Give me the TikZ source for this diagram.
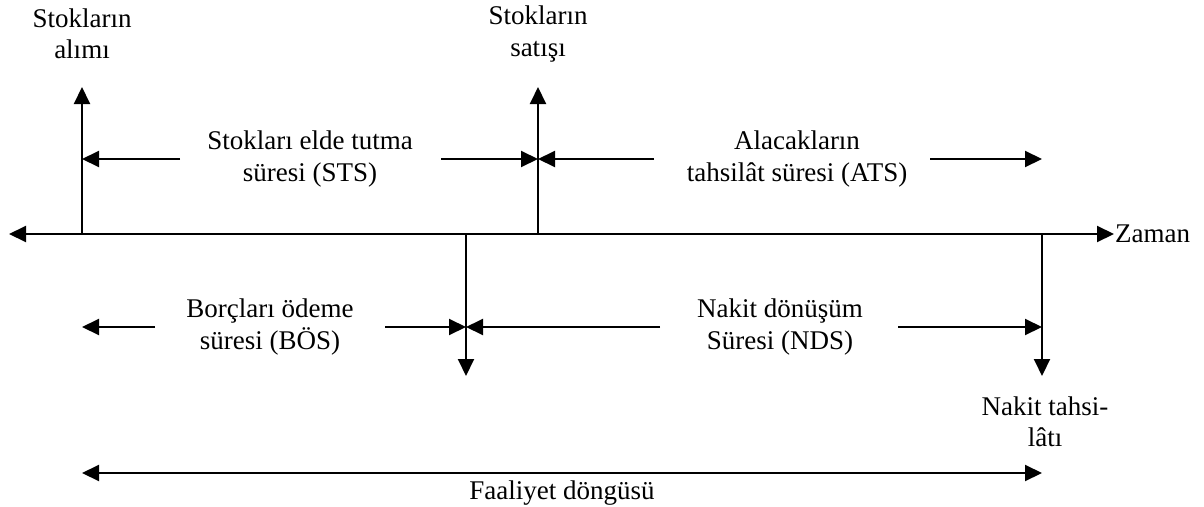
\documentclass[tikz,border=0pt]{standalone}
\usepackage{fontspec}
\setmainfont{Liberation Serif}
\usetikzlibrary{arrows.meta}
\begin{document}
\begin{tikzpicture}[x=1pt,y=-1pt,
  conn/.style={line width=2pt,-{Triangle[length=17pt,width=16pt]}},
  both/.style={line width=2pt,{Triangle[length=17pt,width=16pt]}-{Triangle[length=17pt,width=16pt]}},
  lbl/.style={align=center,inner sep=0pt,font=\fontsize{27}{31.5}\selectfont}]
\useasboundingbox (0,0) rectangle (1204,506);
% axis points
\coordinate (axL) at (9,234);
\coordinate (axR) at (1114,234);
\coordinate (pA) at (82,234);
\coordinate (pS) at (538,234);
\coordinate (pB) at (466,234);
\coordinate (pN) at (1042,234);
\coordinate (tA) at (82,87);
\coordinate (tS) at (538,87);
\coordinate (tB) at (466,376);
\coordinate (tN) at (1042,376);
% time axis
\draw[both] (axL) -- (axR);
\node[lbl,anchor=west] (zaman) at (1115,234) {Zaman};
% verticals
\draw[conn] (pA) -- (tA);
\draw[conn] (pS) -- (tS);
\draw[conn] (pB) -- (tB);
\draw[conn] (pN) -- (tN);
% top labels
\node[lbl] (alim) at (82,34) {Stokların\\alımı};
\node[lbl] (satis) at (538,34) {Stokların\\satışı};
\node[lbl] (sts) at (310,159) {Stokları elde tutma\\süresi (STS)};
\node[lbl] (ats) at (797,159) {Alacakların\\tahsilât süresi (ATS)};
% top interval arrows
\coordinate (hA) at (82,159);
\coordinate (hS) at (538,159);
\coordinate (hE) at (1042,159);
\coordinate (s1) at (180,159);
\coordinate (s2) at (441,159);
\coordinate (a1) at (654,159);
\coordinate (a2) at (930,159);
\draw[conn] (s1) -- (hA);
\draw[conn] (s2) -- (hS);
\draw[conn] (a1) -- (hS);
\draw[conn] (a2) -- (hE);
% bottom labels
\node[lbl] (bos) at (270,327) {Borçları ödeme\\süresi (BÖS)};
\node[lbl] (nds) at (780,327) {Nakit dönüşüm\\Süresi (NDS)};
\node[lbl] (tahsil) at (1045,422) {Nakit tahsi-\\lâtı};
% bottom interval arrows
\coordinate (gA) at (82,327);
\coordinate (gB) at (466,327);
\coordinate (gN) at (1042,327);
\coordinate (b1) at (155,327);
\coordinate (b2) at (385,327);
\coordinate (n1) at (660,327);
\coordinate (n2) at (898,327);
\draw[conn] (b1) -- (gA);
\draw[conn] (b2) -- (gB);
\draw[conn] (n1) -- (gB);
\draw[conn] (n2) -- (gN);
% operating cycle
\coordinate (fL) at (82,473);
\coordinate (fR) at (1042,473);
\draw[both] (fL) -- (fR);
\node[lbl] (faal) at (562,493) {Faaliyet döngüsü};
\end{tikzpicture}
\end{document}
